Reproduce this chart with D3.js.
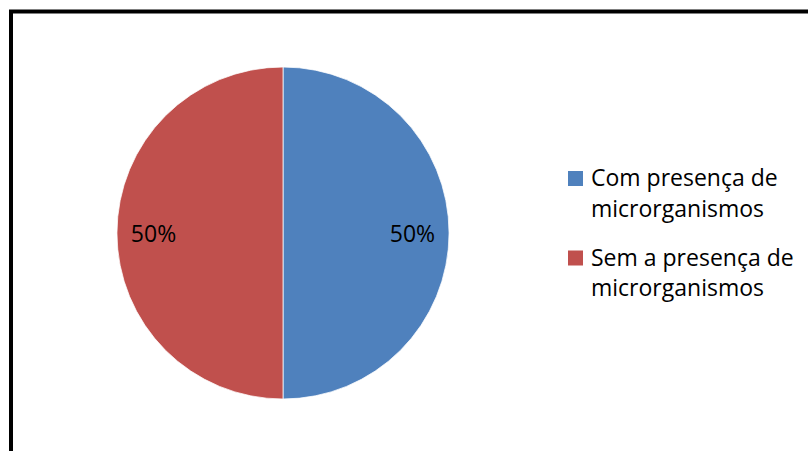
<!DOCTYPE html>
<html>
<head>
<meta charset="utf-8">
<script src="https://d3js.org/d3.v7.min.js"></script>
<style>
body {margin:0; background:#fff;}
svg text {font-family: "Open Sans", sans-serif; fill:#000;}
</style>
</head>
<body>
<svg id="chart" width="808" height="451"></svg>
<script>
// data
var categories = ["Com presença de microrganismos", "Sem a presença de microrganismos"];
var legendLines = [["Com presença de", "microrganismos"], ["Sem a presença de", "microrganismos"]];
var values = [50, 50];
var colors = ["#4F81BD", "#C0504D"];

var svg = d3.select("#chart");

// outer frame (bottom and right run off the picture)
svg.append("rect")
    .attr("x", 11).attr("y", 11.5)
    .attr("width", 830).attr("height", 480)
    .attr("fill", "none")
    .attr("stroke", "#000")
    .attr("stroke-width", 4);

var cx = 283, cy = 233, r = 166;
var total = d3.sum(values);
var pie = d3.pie().sort(null).value(d => d)(values);
var arc = d3.arc().innerRadius(0).outerRadius(r);
var labelArc = d3.arc().innerRadius(r * 0.78).outerRadius(r * 0.78);

var g = svg.append("g").attr("transform", "translate(" + cx + "," + cy + ")");

g.selectAll("path")
    .data(pie)
    .join("path")
    .attr("d", arc)
    .attr("fill", (d, i) => colors[i])
    .attr("stroke", "#fff")
    .attr("stroke-width", 0.75);

g.selectAll("text.lbl")
    .data(pie)
    .join("text")
    .attr("class", "lbl")
    .attr("x", d => labelArc.centroid(d)[0])
    .attr("y", 9)
    .attr("text-anchor", "middle")
    .style("font-size", "23px")
    .text(d => Math.round(d.data / total * 100) + "%");

// legend
var legendY = [186, 265.5];
var leg = svg.selectAll("g.leg")
    .data(categories)
    .join("g")
    .attr("class", "leg")
    .attr("transform", (d, i) => "translate(568," + legendY[i] + ")");

leg.append("rect")
    .attr("x", 0).attr("y", -15)
    .attr("width", 15).attr("height", 15)
    .attr("fill", (d, i) => colors[i]);

leg.each(function(d, i) {
    d3.select(this).selectAll("text")
        .data(legendLines[i])
        .join("text")
        .attr("x", 23)
        .attr("y", (t, j) => j * 30.5)
        .style("font-size", "23px")
        .text(t => t);
});
</script>
</body>
</html>
